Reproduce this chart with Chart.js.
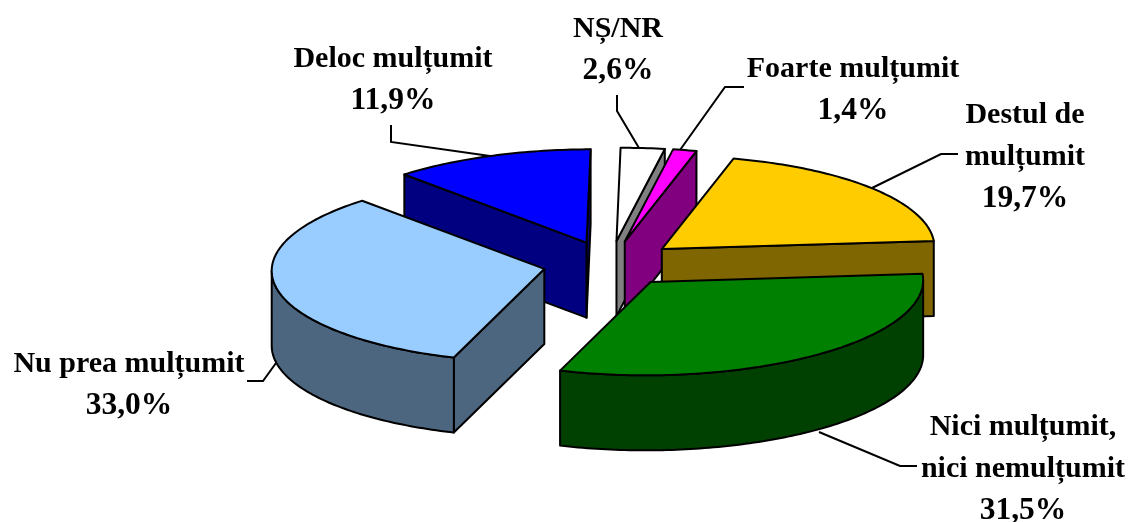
<!DOCTYPE html>
<html><head><meta charset="utf-8">
<style>html,body{margin:0;padding:0;background:#fff}#w{position:relative;width:1128px;height:522px}</style>
<script src="https://cdn.jsdelivr.net/npm/chart.js@4"></script></head>
<body><div id="w"><canvas id="c" width="1128" height="522"></canvas></div>
<script>
const categories = ["Foarte mulțumit","Destul de mulțumit","Nici mulțumit, nici nemulțumit","Nu prea mulțumit","Deloc mulțumit","NȘ/NR"];
const values = [1.4,19.7,31.5,33.0,11.9,2.6];
const topColors = ["#FF00FF","#FFCC00","#008000","#99CCFF","#0000FF","#FFFFFF"];
const sideColors = ["#800080","#806600","#004000","#4D6680","#000080","#808080"];
const labelLines = [["Foarte mulțumit"],["Destul de","mulțumit"],["Nici mulțumit,","nici nemulțumit"],["Nu prea mulțumit"],["Deloc mulțumit"],["NȘ/NR"]];
const labelCenters = [[853,77],[1025,123],[1023,435],[129,372],[393,67],[618,37]];
const leaders = [
 [[744,87],[725,87],[680,150]],
 [[958,154],[941,154],[872,188]],
 [[917,466],[900,466],[819,432]],
 [[247,381],[263,381],[276,363]],
 [[391,125],[391,142],[490,156]],
 [[617,95],[617,111],[639,148]]
];
const drawOrder = [4,5,0,1,3,2];
const axisE = [272,-8], axisQ = [-18,-93], pieCenter = [610,264], depth = 75;
const fontPx = 30, percentPx = 31.5, lineGap = 42;

const pie3d = {
  id:'pie3d',
  beforeDatasetsDraw(chart){
    const ctx = chart.ctx, arcs = chart.getDatasetMeta(0).data;
    const map = (r,lx,ly)=>[pieCenter[0]+(axisE[0]*lx-axisQ[0]*ly)/r, pieCenter[1]+(axisE[1]*lx-axisQ[1]*ly)/r];
    const poly=(pts,fill)=>{ctx.beginPath();pts.forEach((p,i)=>i?ctx.lineTo(p[0],p[1]):ctx.moveTo(p[0],p[1]));ctx.closePath();ctx.fillStyle=fill;ctx.fill();ctx.stroke();};
    const down=p=>[p[0],p[1]+depth];
    ctx.save();
    ctx.strokeStyle='#000';ctx.lineWidth=2;ctx.lineJoin='round';
    drawOrder.forEach(i=>{
      const el=arcs[i], r=el.outerRadius, s=el.startAngle, e=el.endAngle, off=el.options.offset/4, mid=(s+e)/2;
      const ox=Math.cos(mid)*off, oy=Math.sin(mid)*off;
      const apex=map(r,ox,oy), rim=[];
      const n=Math.max(4,Math.ceil((e-s)/(Math.PI/180)));
      for(let k=0;k<=n;k++){const a=e-(e-s)*k/n;rim.push(map(r,ox+r*Math.cos(a),oy+r*Math.sin(a)));}
      const first=rim[0], last=rim[n];
      if(first[0]>apex[0]) poly([apex,first,down(first),down(apex)],sideColors[i]);
      if(last[0]<apex[0]) poly([last,apex,down(apex),down(last)],sideColors[i]);
      let run=[];
      const flush=()=>{if(run.length>1)poly(run.concat(run.map(down).reverse()),sideColors[i]);run=[];};
      for(let k=0;k<n;k++){
        if(rim[k+1][0]>rim[k][0]){if(!run.length)run.push(rim[k]);run.push(rim[k+1]);}
        else flush();
      }
      flush();
      poly([apex].concat(rim),topColors[i]);
    });
    ctx.restore();
    return false;
  },
  afterDraw(chart){
    const ctx=chart.ctx;
    ctx.save();
    ctx.strokeStyle='#000';ctx.lineWidth=2;
    leaders.forEach(l=>{ctx.beginPath();l.forEach((p,i)=>i?ctx.lineTo(p[0],p[1]):ctx.moveTo(p[0],p[1]));ctx.stroke();});
    ctx.fillStyle='#000';ctx.textAlign='center';ctx.textBaseline='alphabetic';
    labelLines.forEach((lines,i)=>{
      const x=labelCenters[i][0], y=labelCenters[i][1];
      ctx.font='bold '+fontPx+'px "Liberation Serif"';
      lines.forEach((t,k)=>ctx.fillText(t,x,y+k*lineGap));
      ctx.font='bold '+percentPx+'px "Liberation Serif"';
      ctx.fillText(values[i].toFixed(1).replace('.',',')+'%',x,y+lines.length*lineGap);
    });
    ctx.restore();
  }
};
new Chart(document.getElementById('c'),{
  type:'pie',
  data:{labels:categories,datasets:[{data:values,backgroundColor:topColors,offset:172,borderWidth:0}]},
  options:{responsive:false,animation:false,rotation:14,events:[],
    layout:{padding:0},
    plugins:{legend:{display:false},tooltip:{enabled:false},title:{display:false}}},
  plugins:[pie3d]
});
</script></body></html>
